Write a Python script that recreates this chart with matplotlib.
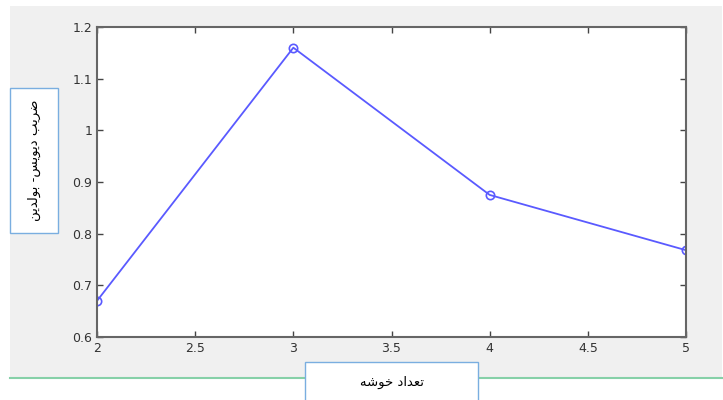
import matplotlib
matplotlib.use('Agg')
import matplotlib.pyplot as plt
from matplotlib.patches import Rectangle
from matplotlib.lines import Line2D

# cluster count vs Davies-Bouldin index
clusters = [2, 3, 4, 5]
db_index = [0.67, 1.16, 0.875, 0.768]
xticks = [2, 2.5, 3, 3.5, 4, 4.5, 5]
yticks = [0.6, 0.7, 0.8, 0.9, 1.0, 1.1, 1.2]
ytick_labels = ['0.6', '0.7', '0.8', '0.9', '1', '1.1', '1.2']

# Persian labels, pre-shaped (presentation forms, visual order)
xlabel_txt = 'ﺗﻌﺪاد ﺧﻮﺷﻪ'[::-1]
ylabel_txt = 'ﺿﺮﯾﺐ دﯾﻮﯾﺲ- ﺑﻮﻟﺪﯾﻦ'[::-1]

plt.rcParams['font.family'] = ['DejaVu Sans']

fig = plt.figure(figsize=(7.23, 4.0), dpi=100)
fig.patch.set_facecolor('white')

# grey MATLAB figure area and green rule beneath it
fig.add_artist(Rectangle((0.0138, 0.0575), 0.985, 0.9275, transform=fig.transFigure,
                         facecolor='#f0f0f0', edgecolor='none', zorder=0))
fig.add_artist(Line2D([0.0138, 1.0], [0.055, 0.055], transform=fig.transFigure,
                      color='#86d0a8', linewidth=1.5, zorder=1))

ax = fig.add_axes([0.1342, 0.1575, 0.8146, 0.775])
ax.plot(clusters, db_index, '-o', color='#5a5aff', linewidth=1.3,
        markersize=6, markerfacecolor='none', markeredgewidth=1.2)

ax.set_xlim(2, 5)
ax.set_ylim(0.6, 1.2)
ax.set_xticks(xticks)
ax.set_xticklabels(['2', '2.5', '3', '3.5', '4', '4.5', '5'])
ax.set_yticks(yticks)
ax.set_yticklabels(ytick_labels)
ax.tick_params(direction='in', length=4, width=1, color='#444444',
               top=True, right=True, labelsize=9, labelcolor='#333333')
for sp in ax.spines.values():
    sp.set_color('#666666')
    sp.set_linewidth(1.5)

# label boxes
fig.add_artist(Rectangle((0.0138, 0.4175), 0.0664, 0.3625, transform=fig.transFigure,
                         facecolor='white', edgecolor='#7aaee0', linewidth=1, zorder=3))
fig.text(0.047, 0.6, ylabel_txt, rotation=90, ha='center', va='center',
         fontsize=9.5, zorder=4)

fig.add_artist(Rectangle((0.4219, -0.01), 0.2393, 0.105, transform=fig.transFigure,
                         facecolor='white', edgecolor='#7aaee0', linewidth=1, zorder=3))
fig.text(0.542, 0.045, xlabel_txt, ha='center', va='center', fontsize=9.5, zorder=4)

fig.savefig('out.png', dpi=100)
